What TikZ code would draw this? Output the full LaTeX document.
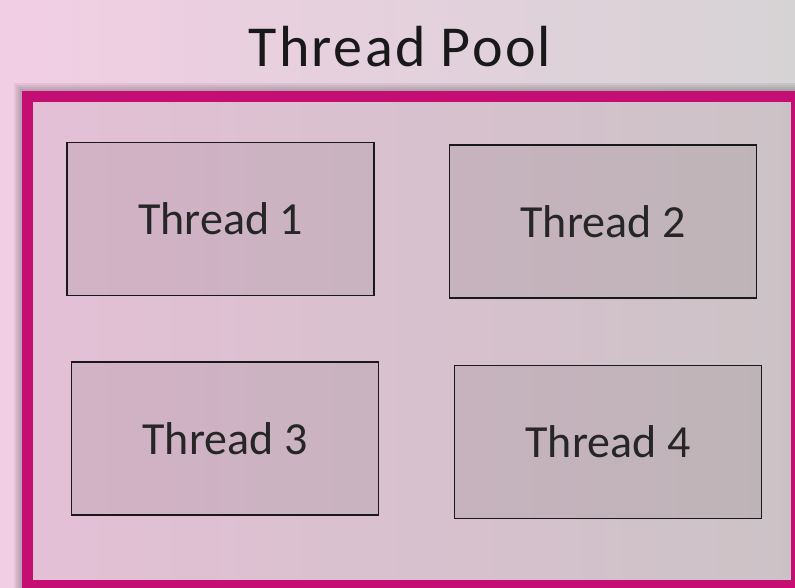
\documentclass[tikz,border=0pt]{standalone}
\usepackage{fontspec}
\setmainfont{Carlito}
\usetikzlibrary{positioning}
\definecolor{poolmagenta}{RGB}{196,14,116}
\definecolor{bgpink}{RGB}{242,206,228}
\definecolor{bggray}{RGB}{214,211,213}
\definecolor{innerpink}{RGB}{228,192,214}
\definecolor{innergray}{RGB}{204,194,198}
\begin{document}
\begin{tikzpicture}[x=1pt,y=-1pt,
  thread/.style={draw=black!90, line width=1.3pt, fill=black, fill opacity=0.07, text opacity=1,
    minimum width=307pt, minimum height=153pt, font=\fontsize{46}{50}\selectfont, text=black!85},
  pool/.style={draw=poolmagenta, line width=11pt, left color=innerpink, right color=innergray,
    minimum width=769pt, minimum height=488.5pt, inner sep=0pt}]
 \useasboundingbox (0,0) rectangle (795,588);
 \clip (0,0) rectangle (795,588);
 \shade[left color=bgpink, right color=bggray] (0,0) rectangle (795,588);
 \foreach \s in {2,4,6,8}
  \draw[black, opacity=0.06, line width=11pt+\s pt] (27.5-\s/2,97-\s/2) rectangle (796.5,585.5);
 \node (pool) [pool] at (412,341.25) {};
 \node (title) [anchor=base, font=\fontsize{58}{60}\selectfont\addfontfeature{LetterSpace=4}, text=black!90] at (400,67) {Thread Pool};
 \node (t1) [thread] at (220.5,219) {Thread 1};
 \node (t2) [thread] at (603,221.5) {Thread 2};
 \node (t3) [thread] at (225,438.5) {Thread 3};
 \node (t4) [thread] at (608,442) {Thread 4};
\end{tikzpicture}
\end{document}
